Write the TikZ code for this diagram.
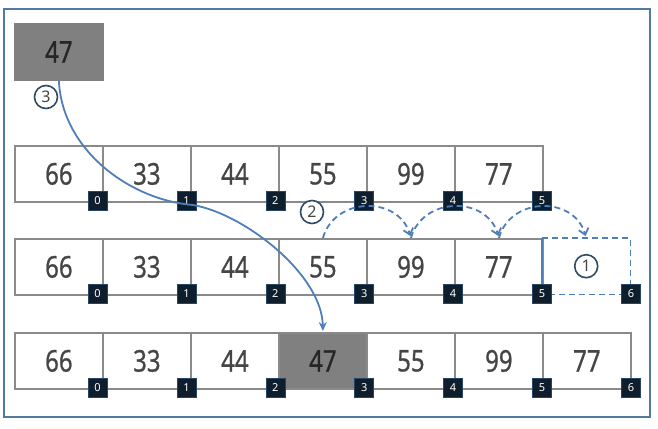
\documentclass[tikz,border=0pt]{standalone}
\usepackage{fontspec}
\setmainfont{Noto Sans}
\newfontfamily\numfont[FakeStretch=0.8,FakeBold=0.8]{Noto Sans}
\usetikzlibrary{arrows.meta}
\definecolor{framec}{HTML}{5479A0}
\definecolor{cellc}{HTML}{8A8A8A}
\definecolor{txtc}{HTML}{454545}
\definecolor{idxc}{HTML}{0F1E2D}
\definecolor{arrc}{HTML}{4F7FB8}
\definecolor{circc}{HTML}{2E4A66}
\definecolor{grayfill}{HTML}{808080}
\begin{document}
\begin{tikzpicture}[x=1pt,y=-1pt,
 cell/.style={draw=cellc, line width=1.8pt, minimum width=88pt, minimum height=56pt, inner sep=0pt, anchor=north west, font=\numfont\fontsize{30}{30}\selectfont, text=txtc},
 hl/.style={fill=grayfill, text=black!85},
 idx/.style={fill=idxc, draw=idxc!60!arrc, line width=0.6pt, minimum size=19pt, inner sep=0pt, text=white, font=\bfseries\fontsize{11}{11}\selectfont},
 num/.style={circle, draw=circc, line width=1.6pt, minimum size=23pt, inner sep=0pt, fill=white, text=txtc, font=\fontsize{16}{16}\selectfont},
 flow/.style={draw=arrc, line width=1.8pt, -{Stealth[length=9pt,width=8pt]}},
 shiftarrow/.style={draw=arrc, line width=1.8pt, dash pattern=on 6pt off 4pt, -{Straight Barb[length=6pt,width=10pt]}},
 slotline/.style={draw=arrc, line width=1.8pt, dash pattern=on 6pt off 4pt},
]
\useasboundingbox (0,0) rectangle (658,428);
\draw[framec, line width=2.5pt] (4,9) rectangle (650,417);

% top element
\node[cell,hl,draw=grayfill] (t47) at (14,23) {47};

% row 1
\foreach \v [count=\i from 0] in {66,33,44,55,99,77}
  \node[cell] (r1c\i) at (14+88*\i,145) {\v};
% row 2
\foreach \v [count=\i from 0] in {66,33,44,55,99,77}
  \node[cell] (r2c\i) at (14+88*\i,238) {\v};
\node[minimum width=88pt, minimum height=56pt, inner sep=0pt, anchor=north west] (slot) at (542,238) {};
\draw[slotline] (slot.north west) -- (slot.north east) -- (slot.south east) -- (slot.south west);
\draw[draw=arrc, line width=1.8pt] (slot.north west) -- (slot.south west);
% row 3
\foreach \v [count=\i from 0] in {66,33,44}
  \node[cell] (r3c\i) at (14+88*\i,332) {\v};
\node[cell,hl] (r3c3) at (278,332) {47};
\foreach \v [count=\i from 4] in {55,99,77}
  \node[cell] (r3c\i) at (14+88*\i,332) {\v};

% index boxes
\foreach \i in {0,...,5}
  \node[idx] (ia\i) at (97.5+88.9*\i,201) {\i};
\foreach \i in {0,...,6}
  \node[idx] (ib\i) at (97.5+88.9*\i,294) {\i};
\foreach \i in {0,...,6}
  \node[idx] (ic\i) at (97.5+88.9*\i,388) {\i};

% step 3: insert 47
\coordinate (via) at (193,205);
\draw[flow, shorten >=1pt] (t47.south) .. controls (62,150) and (130,200) .. (via)
  .. controls (245,214) and (322,275) .. (r3c3.north);

% step 2: shift right
\draw[shiftarrow, shorten >=2pt] (r2c3.north) .. controls +(12,-42) and +(-12,-42) .. (r2c4.north);
\draw[shiftarrow, shorten >=2pt] (r2c4.north) .. controls +(12,-42) and +(-12,-42) .. (r2c5.north);
\draw[shiftarrow, shorten >=2pt] (r2c5.north) .. controls +(12,-42) and +(-12,-42) .. (slot.north);

% step numbers
\node[num] (n1) at (slot.center) {1};
\node[num] (n2) at (312,212) {2};
\node[num] (n3) at (46,97) {3};
\end{tikzpicture}
\end{document}
